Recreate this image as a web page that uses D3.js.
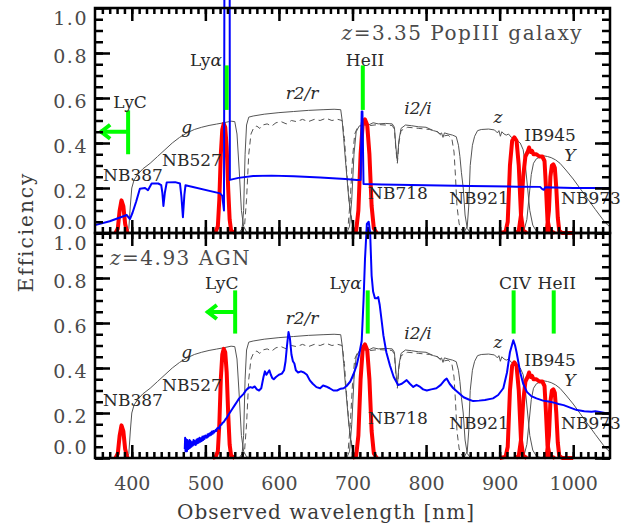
<!DOCTYPE html>
<html>
<head>
<meta charset="utf-8">
<script src="https://cdn.jsdelivr.net/npm/d3@7/dist/d3.min.js"></script>
<style>
    body { margin: 0; background: #fff; }
    svg { display: block; font-family: "DejaVu Serif", serif; }
    .frame { fill: none; stroke: #000; stroke-width: 2.5; }
    .axis line { stroke: #000; stroke-width: 2.5; }
    .axis text { font-family: "DejaVu Serif", serif; font-size: 19px; fill: #4a4a4a; }
    .y-labels text { letter-spacing: 1.5px; }
    .band { fill: none; stroke: #555; stroke-width: 1; }
    .band.dashed { stroke-dasharray: 6,4; }
    .nb { fill: none; stroke: #f00; stroke-width: 4; stroke-linejoin: round; }
    .spec { fill: none; stroke: #00f; stroke-width: 2; stroke-linejoin: round; }
    .marker { fill: none; stroke: #0f0; stroke-width: 4; }
    .note { font-size: 17px; fill: #2a2a2a; }
    .title { font-size: 20px; fill: #4a4a4a; letter-spacing: 1.5px; }
    .axis-title { font-size: 20px; fill: #3a3a3a; letter-spacing: 1px; }
</style>
</head>
<body>
<div id="chart"></div>
<script>

// ---- data ----
var xMajorTicks = [400, 500, 600, 700, 800, 900, 1000];
var yMajorTicks = [0.0, 0.2, 0.4, 0.6, 0.8, 1.0];

// broad-band filter curves [wavelength nm, efficiency]
var gBand = [[393,0],[396,0.02],[398,0.12],[400,0.2],[403,0.235],[408,0.26],[415,0.285],[425,0.31],[435,0.34],[445,0.37],[455,0.4],[465,0.425],[475,0.445],[485,0.46],[495,0.47],[505,0.478],[515,0.484],[525,0.49],[535,0.497],[540,0.495],[543,0.44],[546,0.28],[549,0.1],[552,0.03],[556,0.005],[562,0]];
var r2Band = [[546,0],[550,0.02],[552,0.1],[554,0.35],[556,0.48],[559,0.515],[565,0.52],[580,0.528],[600,0.535],[620,0.54],[640,0.545],[660,0.548],[675,0.55],[684,0.548],[686,0.5],[688,0.42],[691,0.3],[695,0.15],[699,0.05],[703,0.01],[708,0]];
var rBand = [[548,0],[553,0.02],[556,0.15],[559,0.35],[562,0.44],[566,0.47],[570,0.475],[574,0.465],[578,0.48],[584,0.485],[590,0.475],[596,0.49],[603,0.495],[610,0.485],[617,0.5],[624,0.495],[632,0.505],[640,0.495],[648,0.505],[656,0.5],[664,0.51],[672,0.5],[680,0.505],[686,0.5],[689,0.42],[692,0.28],[696,0.12],[700,0.04],[705,0]];
var i2Band = [[692,0],[696,0.03],[699,0.15],[702,0.35],[705,0.45],[709,0.475],[715,0.485],[722,0.48],[728,0.49],[735,0.485],[745,0.487],[754,0.485],[757,0.47],[759,0.38],[761,0.32],[763,0.41],[766,0.465],[772,0.48],[780,0.477],[790,0.472],[800,0.47],[810,0.455],[816,0.45],[819,0.44],[821,0.445],[823,0.425],[825,0.445],[830,0.44],[836,0.435],[841,0.428],[844,0.39],[846,0.34],[848,0.27],[850.5,0.2],[853,0.08],[856,0.02],[860,0.003],[880,0]];
var iBand = [[690,0],[694,0.03],[697,0.15],[700,0.33],[703,0.44],[707,0.47],[715,0.48],[725,0.478],[735,0.482],[745,0.48],[754,0.478],[757,0.46],[759,0.37],[761,0.31],[763,0.4],[766,0.455],[775,0.47],[790,0.465],[805,0.46],[815,0.45],[822,0.43],[830,0.435],[835,0.42],[838,0.36],[840,0.25],[842,0.12],[845,0.04],[849,0.01],[855,0]];
var zBand = [[845,0],[852,0.005],[856,0.03],[858,0.12],[860,0.3],[863,0.39],[866,0.43],[870,0.455],[875,0.46],[885,0.462],[893,0.458],[897,0.445],[899,0.455],[901,0.43],[903,0.45],[906,0.44],[909,0.435],[912,0.44],[916,0.425],[922,0.415],[928,0.4],[932,0.37],[935,0.3],[938,0.2],[941,0.1],[945,0.035],[950,0.008],[958,0]];
var yBand = [[928,0],[933,0.01],[937,0.06],[940,0.16],[943,0.26],[946,0.31],[950,0.33],[955,0.338],[960,0.343],[965,0.34],[970,0.335],[976,0.325],[982,0.31],[990,0.28],[1000,0.24],[1010,0.195],[1020,0.15],[1030,0.105],[1041,0.057],[1047,0.035],[1050,0.028]];

// narrow / intermediate band filters
var nb387 = [[378,0],[381,0.02],[383.5,0.1],[386,0.145],[388.5,0.12],[391,0.04],[394,0]];
var nb527 = [[510,0],[514,0.005],[517,0.03],[519,0.15],[521,0.35],[523,0.46],[525,0.485],[527,0.47],[529,0.38],[531,0.2],[533,0.06],[535,0.01],[540,0]];
var nb718 = [[700,0],[705,0.01],[708,0.1],[711,0.35],[714,0.49],[717,0.505],[720,0.48],[723,0.35],[726,0.12],[729,0.02],[733,0]];
var nb921 = [[900,0],[908,0.005],[911,0.05],[914,0.3],[917,0.41],[920,0.425],[923,0.41],[926,0.3],[929,0.08],[932,0.01],[937,0]];
var ib945 = [[922,0],[926,0.01],[929,0.08],[932,0.25],[935,0.34],[938,0.36],[940,0.38],[942,0.36],[944,0.365],[946,0.35],[950,0.35],[954,0.34],[958,0.34],[961,0.32],[963,0.2],[965,0.06],[968,0.01],[975,0]];
var nb973 = [[960,0],[964,0.01],[967,0.1],[969,0.25],[971,0.3],[973,0.305],[975,0.29],[977,0.2],[979,0.07],[981,0.01],[985,0],[1000,0]];

// model spectra
var popIIISpec = [[350,0.035],[370,0.052],[385,0.07],[393,0.08],[397.5,0.062],[401,0.09],[406,0.14],[411,0.197],[418,0.2],[422,0.19],[427,0.22],[436,0.22],[440,0.213],[441.5,0.18],[443,0.12],[445,0.18],[447.5,0.225],[459,0.226],[465.5,0.22],[467.5,0.16],[469.5,0.07],[471.5,0.17],[473,0.212],[520,0.176],[523,0.165],[525.3,0.10],[526,1.3],[533,1.3],[533.3,0.236],[545,0.245],[565,0.253],[590,0.255],[620,0.252],[656,0.247],[690,0.24],[706,0.236],[711,0.236],[712.5,0.54],[713.5,0.54],[715,0.218],[740,0.216],[800,0.212],[860,0.209],[923,0.206],[955,0.205],[958,0.195],[960,0.192],[962,0.203],[1000,0.2],[1050,0.2]];
var agnSpec = [[472,0.04],[472.5,0.09],[473,0.03],[473.5,0.085],[474,0.035],[474.5,0.07],[475,0.03],[475.5,0.08],[476,0.045],[476.5,0.075],[477,0.04],[477.5,0.07],[478,0.05],[478.5,0.08],[479,0.045],[480,0.075],[481,0.05],[482,0.07],[483,0.055],[484,0.08],[485,0.06],[486,0.075],[487,0.058],[488,0.082],[489,0.065],[490,0.085],[491,0.068],[492,0.09],[493,0.072],[494,0.088],[495,0.075],[496,0.095],[497,0.08],[498,0.097],[499,0.085],[500,0.1],[502,0.09],[503,0.105],[504,0.095],[505,0.108],[506,0.1],[507,0.112],[508,0.103],[509,0.118],[510,0.108],[511,0.12],[512,0.113],[514,0.125],[515,0.12],[516,0.132],[518,0.135],[519,0.13],[520,0.145],[522,0.148],[523,0.155],[525,0.16],[527,0.17],[529,0.178],[531,0.19],[533,0.2],[535,0.21],[537,0.22],[540,0.235],[543,0.25],[546,0.265],[549,0.275],[552,0.285],[555,0.3],[558,0.31],[561,0.315],[564,0.312],[567,0.318],[570,0.305],[573,0.3],[576,0.31],[579,0.36],[581,0.385],[583,0.37],[585,0.38],[587,0.39],[589,0.37],[591,0.355],[593,0.35],[596,0.36],[600,0.37],[604,0.375],[607,0.39],[609,0.43],[611,0.5],[613,0.56],[615,0.53],[617,0.46],[619,0.43],[621,0.42],[623,0.39],[626,0.38],[630,0.385],[634,0.38],[638,0.37],[642,0.345],[646,0.33],[651,0.315],[656,0.31],[660,0.322],[664,0.318],[669,0.31],[674,0.3],[679,0.3],[684,0.308],[688,0.31],[692,0.32],[697,0.34],[701,0.37],[705.5,0.41],[709,0.46],[712.5,0.52],[715,0.7],[717,0.885],[719.5,1.04],[722,1.05],[724,1.0],[726,0.81],[728,0.74],[730.5,0.71],[733,0.71],[735,0.715],[737,0.68],[740,0.6],[742,0.545],[746,0.47],[751,0.41],[756,0.36],[762,0.324],[767,0.33],[773.6,0.346],[778,0.33],[782.6,0.316],[787,0.325],[792,0.316],[796,0.305],[801,0.3],[807,0.305],[814,0.31],[820,0.325],[825,0.345],[828,0.353],[832,0.33],[837,0.31],[844,0.29],[851,0.27],[858,0.26],[864,0.253],[872,0.255],[880,0.258],[891,0.265],[898,0.28],[905,0.31],[910,0.38],[914,0.47],[918.6,0.523],[921,0.5],[923,0.47],[928,0.38],[932,0.33],[937,0.294],[943,0.275],[950,0.265],[959,0.255],[968.5,0.25],[975,0.245],[980,0.24],[987,0.235],[995,0.225],[1005,0.213],[1015,0.208],[1025,0.206],[1030,0.208],[1036,0.205],[1043,0.2],[1050,0.198]];

// emission line markers: wavelength, efficiency range, optional LyC arrow
var popIIIMarkers = [
    { lam: 395, lo: 0.35, hi: 0.545, arrowTo: 357, arrowAt: 0.45 },
    { lam: 529, lo: 0.547, hi: 0.745 },
    { lam: 714, lo: 0.547, hi: 0.745 }
];
var agnMarkers = [
    { lam: 540.5, lo: 0.553, hi: 0.745, arrowTo: 502, arrowAt: 0.649 },
    { lam: 720.7, lo: 0.553, hi: 0.745 },
    { lam: 919, lo: 0.553, hi: 0.745 },
    { lam: 973.5, lo: 0.553, hi: 0.745 }
];

// text annotations: [text, wavelength, efficiency, anchor, italic]
var filterNotes = [
    ["NB387", 401.7, 0.258, "middle", false],
    ["NB527", 481.8, 0.324, "middle", false],
    ["g", 474.6, 0.472, "middle", true],
    ["r2/r", 631.4, 0.622, "middle", true],
    ["i2/i", 789.0, 0.556, "middle", true],
    ["z", 897.8, 0.516, "middle", true],
    ["IB945", 968.5, 0.436, "middle", false],
    ["Y", 995.6, 0.347, "middle", true],
    ["NB718", 761.8, 0.178, "middle", false],
    ["NB921", 872.0, 0.156, "middle", false],
    ["NB973", 1024.2, 0.156, "middle", false]
];
var popIIINotes = [
    ["LyC", 397.6, 0.584, "middle", false],
    ["Lyα", 522.6, 0.769, "end", false],
    ["HeII", 717.0, 0.769, "middle", false]
];
var agnNotes = [
    ["LyC", 522.2, 0.776, "middle", false],
    ["Lyα", 712.5, 0.776, "end", false],
    ["CIV", 920.9, 0.776, "middle", false],
    ["HeII", 977.6, 0.776, "middle", false]
];

var width = 633, height = 527;

var svg = d3.select("#chart").append("svg")
    .attr("width", width)
    .attr("height", height);

var x = d3.scaleLinear().domain([350, 1050]).range([95, 610]);


/*
 * FilterPanel - one of the two stacked panels
 */
FilterPanel = function(_svg, _top, _bottom, _spectrum, _markers, _notes, _title, _showXLabels){
    this.svg = _svg;
    this.top = _top;
    this.bottom = _bottom;
    this.spectrum = _spectrum;
    this.markers = _markers;
    this.notes = _notes;
    this.title = _title;
    this.showXLabels = _showXLabels;

    this.initVis();
}

FilterPanel.prototype.initVis = function(){
    var vis = this;

    vis.y = d3.scaleLinear().domain([0, 1]).range([vis.bottom, vis.top]);
    vis.g = vis.svg.append("g");

    vis.line = d3.line()
        .x(function(d){ return x(d[0]); })
        .y(function(d){ return vis.y(d[1]); });

    // broad bands
    [gBand, r2Band, i2Band, zBand, yBand].forEach(function(b){
        vis.g.append("path").attr("class", "band").attr("d", vis.line(b));
    });
    [rBand, iBand].forEach(function(b){
        vis.g.append("path").attr("class", "band dashed").attr("d", vis.line(b));
    });

    // narrow bands
    [nb387, nb527, nb718, nb921, ib945, nb973].forEach(function(b){
        vis.g.append("path").attr("class", "nb").attr("d", vis.line(b));
    });

    // spectrum
    vis.g.append("path").attr("class", "spec").attr("d", vis.line(vis.spectrum));

    // line markers
    vis.markers.forEach(function(m){
        vis.g.append("line").attr("class", "marker")
            .attr("x1", x(m.lam)).attr("x2", x(m.lam))
            .attr("y1", vis.y(m.lo)).attr("y2", vis.y(m.hi));
        if (m.arrowTo){
            var ty = vis.y(m.arrowAt), tx = x(m.arrowTo);
            vis.g.append("line").attr("class", "marker")
                .attr("x1", x(m.lam)).attr("x2", tx)
                .attr("y1", ty).attr("y2", ty);
            vis.g.append("polyline").attr("class", "marker")
                .attr("points", [[tx + 10, ty - 7], [tx + 1, ty], [tx + 10, ty + 7]].join(" "));
        }
    });

    vis.drawNotes(filterNotes.concat(vis.notes));
    vis.drawTitle();
    vis.drawAxes();
}

FilterPanel.prototype.drawNotes = function(notes){
    var vis = this;
    notes.forEach(function(n){
        var t = vis.g.append("text").attr("class", "note")
            .attr("x", x(n[1]))
            .attr("y", vis.y(n[2]) + 6)
            .attr("text-anchor", n[3]);
        if (n[0] === "Lyα"){
            t.append("tspan").text("Ly");
            t.append("tspan").style("font-style", "italic").text("α");
        }
        else {
            t.style("font-style", n[4] ? "italic" : "normal").text(n[0]);
        }
    });
}

FilterPanel.prototype.drawTitle = function(){
    var vis = this;
    var t = vis.g.append("text").attr("class", "title")
        .attr("x", x(vis.title.lam))
        .attr("y", vis.y(vis.title.eff) + 7)
        .attr("text-anchor", vis.title.anchor);
    t.append("tspan").style("font-style", "italic").text("z");
    t.append("tspan").text(vis.title.text);
}

FilterPanel.prototype.drawAxes = function(){
    var vis = this;
    var xMinor = d3.range(360, 1050, 10);
    var yMinor = d3.range(0, 1.0001, 0.05);

    function put(axis, tx, ty, cls){
        var a = vis.g.append("g").attr("class", "axis " + (cls || ""))
            .attr("transform", "translate(" + tx + "," + ty + ")")
            .call(axis);
        a.select(".domain").remove();
        return a;
    }

    // bottom & top edges (ticks point inward)
    put(d3.axisBottom(x).tickValues(xMinor).tickSize(-6).tickFormat(""), 0, vis.bottom);
    put(d3.axisTop(x).tickValues(xMinor).tickSize(-6).tickFormat(""), 0, vis.top);
    put(d3.axisTop(x).tickValues(xMajorTicks).tickSize(-13).tickFormat(""), 0, vis.top);
    put(d3.axisBottom(x).tickValues(xMajorTicks).tickSize(-13).tickPadding(18.5)
        .tickFormat(vis.showXLabels ? d3.format("d") : ""), 0, vis.bottom);

    // left & right edges
    put(d3.axisLeft(vis.y).tickValues(yMinor).tickSize(-8).tickFormat(""), 95, 0);
    put(d3.axisRight(vis.y).tickValues(yMinor).tickSize(-8).tickFormat(""), 610, 0);
    put(d3.axisRight(vis.y).tickValues(yMajorTicks).tickSize(-15).tickFormat(""), 610, 0);
    var yl = put(d3.axisLeft(vis.y).tickValues(yMajorTicks).tickSize(-15).tickPadding(7)
        .tickFormat(d3.format(".1f")), 95, 0, "y-labels");

    // keep the end labels inside the panel, as in the original plot
    yl.selectAll(".tick text")
        .attr("dy", function(d){
            if (d === 1) return "0.86em";
            if (d === 0) return "-0.22em";
            return "0.5em";
        });

    vis.g.append("rect").attr("class", "frame")
        .attr("x", x.range()[0]).attr("y", vis.top)
        .attr("width", x.range()[1] - x.range()[0])
        .attr("height", vis.bottom - vis.top);
}


var topPanel = new FilterPanel(svg, 8, 233, popIIISpec, popIIIMarkers, popIIINotes,
    { text: "=3.35 PopIII galaxy", lam: 1013.3, eff: 0.889, anchor: "end" }, false);
var bottomPanel = new FilterPanel(svg, 233, 458, agnSpec, agnMarkers, agnNotes,
    { text: "=4.93 AGN", lam: 370.4, eff: 0.889, anchor: "start" }, true);

// axis titles
svg.append("text").attr("class", "axis-title")
    .attr("x", 326).attr("y", 519)
    .attr("text-anchor", "middle")
    .text("Observed wavelength [nm]");

svg.append("text").attr("class", "axis-title")
    .attr("transform", "translate(33,232) rotate(-90)")
    .attr("text-anchor", "middle")
    .style("letter-spacing", "2px")
    .text("Efficiency");

</script>
</body>
</html>
